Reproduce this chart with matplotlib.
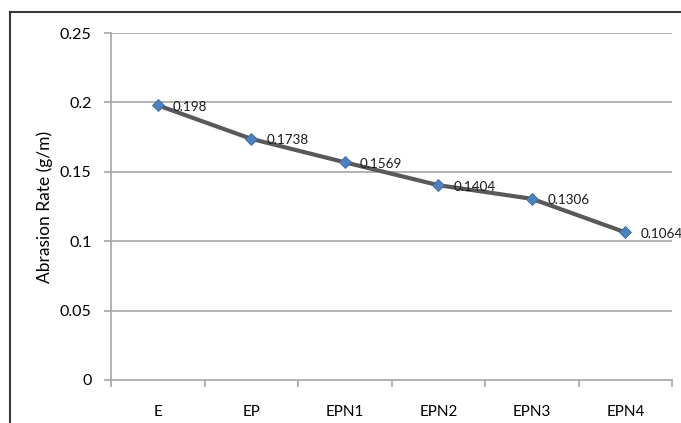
import matplotlib.pyplot as plt
from matplotlib.lines import Line2D

samples = ["E", "EP", "EPN1", "EPN2", "EPN3", "EPN4"]
abrasion_rate = [0.198, 0.1738, 0.1569, 0.1404, 0.1306, 0.1064]
rate_labels = ["0.198", "0.1738", "0.1569", "0.1404", "0.1306", "0.1064"]
y_ticks = [0, 0.05, 0.1, 0.15, 0.2, 0.25]
y_tick_labels = ["0", "0.05", "0.1", "0.15", "0.2", "0.25"]

plt.rcParams['font.family'] = ['Lato', 'DejaVu Sans']

fig = plt.figure(figsize=(6.81, 4.23), dpi=100)
ax = fig.add_axes([0.163, 0.1017, 0.824, 0.820])

x = list(range(len(samples)))

# gridlines
for yt in y_ticks[1:]:
    ax.axhline(yt, color='#a6a6a6', linewidth=1.2, zorder=1)

ax.plot(x, abrasion_rate, color='#595959', linewidth=3, zorder=2,
        marker='D', markersize=6.5, markerfacecolor='#4f81bd',
        markeredgecolor='#3a6a9f', markeredgewidth=0.6)

for xi, yi, lab in zip(x, abrasion_rate, rate_labels):
    ax.annotate(lab, (xi, yi), xytext=(11, -1), textcoords='offset points',
                ha='left', va='center', fontsize=9.7, color='#1a1a1a', zorder=3)

ax.set_xlim(-0.5, len(samples) - 0.5)
ax.set_ylim(0, 0.25)

ax.set_xticks(x)
ax.set_xticklabels(samples, fontsize=11)
ax.set_xticks([i - 0.5 for i in range(len(samples) + 1)], minor=True)
ax.tick_params(axis='x', which='major', length=0, pad=18)
ax.tick_params(axis='x', which='minor', length=5, width=1.2, color='#a6a6a6', direction='out')

ax.set_yticks(y_ticks)
ax.set_yticklabels(y_tick_labels, fontsize=11.5)
ax.tick_params(axis='y', length=5, width=1.2, color='#a6a6a6', direction='out', pad=9)

ax.set_ylabel("Abrasion Rate (g/m)", fontsize=12.5, labelpad=5)

for side in ['top', 'right']:
    ax.spines[side].set_visible(False)
for side in ['left', 'bottom']:
    ax.spines[side].set_color('#a6a6a6')
    ax.spines[side].set_linewidth(1.2)

# outer chart frame (partly cropped at right and bottom)
fx = 9.5 / 681
fy = 1 - 12.5 / 423
fig.add_artist(Line2D([fx, 1], [fy, fy], transform=fig.transFigure, color='#3a3a3a', linewidth=1.5))
fig.add_artist(Line2D([fx, fx], [0, fy], transform=fig.transFigure, color='#3a3a3a', linewidth=1.5))

fig.savefig("out.png", dpi=100)
